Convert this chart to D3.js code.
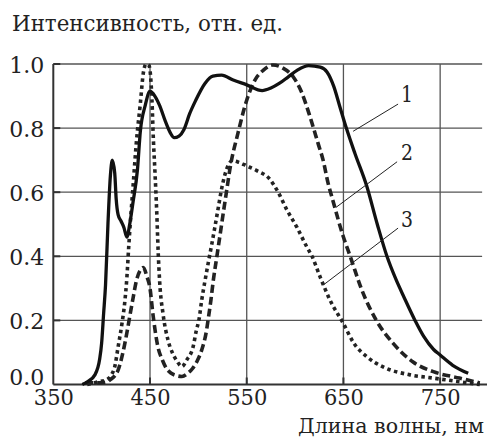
<!DOCTYPE html>
<html><head><meta charset="utf-8">
<script src="https://cdn.jsdelivr.net/npm/d3@7"></script>
<style>
html,body{margin:0;padding:0;background:#fff;}
svg{display:block;}
</style></head>
<body>
<svg id="chart" width="487" height="441"></svg>
<script>
// ---- data ----
const xTicks = [350, 450, 550, 650, 750];
const yTicks = [0.0, 0.2, 0.4, 0.6, 0.8, 1.0];
const yTickLabels = ["0.0", "0.2", "0.4", "0.6", "0.8", "1.0"];
const yTitle = "Интенсивность, отн. ед.";
const xTitle = "Длина волны, нм";

const series1 = [[380,0.0],[386,0.01],[393,0.03],[398,0.08],[400,0.13],[402,0.22],[404,0.31],[406.5,0.5],[409,0.65],[411,0.70],[413.5,0.66],[415,0.58],[417,0.53],[420,0.51],[423,0.49],[426,0.46],[429,0.5],[432.5,0.57],[437,0.67],[440,0.79],[445,0.87],[450,0.915],[455,0.9],[460,0.87],[466,0.82],[471,0.785],[475,0.77],[480,0.775],[485,0.795],[491,0.845],[497,0.885],[507,0.94],[515,0.962],[524,0.965],[536,0.95],[550,0.935],[566,0.917],[575,0.925],[584,0.94],[593,0.96],[602,0.98],[614,0.995],[626,0.99],[633,0.975],[640,0.93],[646,0.87],[653,0.80],[662,0.72],[674,0.62],[685,0.5],[695,0.40],[704,0.33],[713,0.27],[724,0.2],[733,0.15],[743,0.11],[750,0.092],[763,0.06],[779,0.035]];

const series2 = [[383,0.005],[395,0.005],[405,0.008],[409,0.015],[417,0.045],[422,0.1],[426,0.16],[429.5,0.22],[432.5,0.27],[436,0.325],[440,0.357],[443,0.365],[447,0.335],[450,0.30],[453,0.22],[458,0.12],[463,0.075],[467,0.05],[472,0.035],[478,0.027],[483,0.025],[489,0.035],[494,0.05],[499,0.075],[503.5,0.108],[508.5,0.17],[510,0.2],[513,0.264],[515.5,0.326],[519,0.397],[522.5,0.468],[526,0.54],[529.5,0.61],[532.5,0.67],[541,0.785],[550,0.887],[558.5,0.95],[567,0.98],[577,0.997],[587.5,0.987],[598,0.96],[607,0.91],[615.5,0.835],[624,0.75],[629,0.70],[634,0.63],[639,0.575],[650,0.46],[657,0.40],[669,0.295],[684,0.2],[701,0.13],[722,0.07],[743,0.04],[770,0.02],[791,0.005]];

const series3 = [[385,0.0],[396,0.008],[405,0.015],[410,0.03],[413.5,0.055],[417,0.117],[421,0.19],[424,0.26],[426,0.33],[428,0.43],[430,0.52],[432.5,0.62],[436,0.76],[440,0.877],[443,0.97],[446,1.0],[449,0.995],[452,0.888],[453.5,0.763],[455,0.67],[457,0.535],[458.5,0.41],[460,0.32],[463.5,0.22],[468.5,0.14],[473,0.1],[477.5,0.075],[483,0.056],[488,0.077],[494.5,0.117],[498,0.17],[500.5,0.2],[503.5,0.264],[507,0.326],[510,0.376],[514,0.44],[517,0.49],[520.5,0.55],[524,0.61],[527.5,0.655],[531,0.685],[535,0.698],[542,0.693],[550,0.682],[560,0.668],[574,0.64],[582.5,0.6],[591.5,0.545],[602,0.49],[612,0.43],[617.5,0.40],[626,0.335],[636,0.264],[650,0.19],[660.5,0.13],[674.5,0.086],[691,0.055],[719,0.03],[743,0.02],[771,0.008],[791,0.0]];

const labels = ["1", "2", "3"];
const labelPos = [[709.6,0.881],[709.6,0.70],[709.6,0.49]];
const leaderFrom = [[706.5,0.875],[705.5,0.695],[706.5,0.488]];
const leaderTo = [[660,0.79],[642.5,0.553],[629,0.31]];

// ---- layout ----
const svg = d3.select("#chart");
const x = d3.scaleLinear().domain([350, 800]).range([53.3, 488.5]);
const y = d3.scaleLinear().domain([0, 1]).range([384.5, 64]);
const gridEnd = 793.4;
const FONT = '"DejaVu Serif", serif';
const INK = "#222";

// grid
svg.append("g").selectAll("line").data(yTicks.filter(d => d > 0)).join("line")
  .attr("x1", x(350)).attr("x2", x(gridEnd))
  .attr("y1", d => y(d)).attr("y2", d => y(d))
  .attr("stroke", "#555").attr("stroke-width", 1.3);
svg.append("g").selectAll("line").data(xTicks.filter(d => d > 350)).join("line")
  .attr("x1", d => x(d)).attr("x2", d => x(d))
  .attr("y1", y(0)).attr("y2", y(1))
  .attr("stroke", "#555").attr("stroke-width", 1.3);

// axes
const xAxis = d3.axisBottom(x).tickValues(xTicks).tickSize(0).tickPadding(4).tickFormat(d3.format("d"));
const gx = svg.append("g").attr("transform", `translate(0,${y(0)})`).call(xAxis);
gx.attr("font-family", FONT);
gx.select(".domain").remove();
gx.selectAll("text").attr("font-size", 23).attr("dy", "0.72em").attr("fill", INK)
  .attr("textLength", 40).attr("lengthAdjust", "spacingAndGlyphs");

const yAxis = d3.axisLeft(y).tickValues(yTicks).tickSize(0).tickPadding(9).tickFormat((d, i) => yTickLabels[i]);
const gy = svg.append("g").attr("transform", `translate(${x(350)},0)`).call(yAxis);
gy.attr("font-family", FONT);
gy.select(".domain").remove();
gy.selectAll("text").attr("font-size", 23).attr("dy", d => d === 0 ? "0.02em" : "0.35em").attr("fill", INK)
  .attr("textLength", 35).attr("lengthAdjust", "spacingAndGlyphs");

// inward ticks
svg.append("g").selectAll("line").data(xTicks.filter(d => d > 350)).join("line")
  .attr("x1", d => x(d)).attr("x2", d => x(d)).attr("y1", y(0)).attr("y2", y(0) - 7)
  .attr("stroke", "#333").attr("stroke-width", 2);
svg.append("g").selectAll("line").data(yTicks.filter(d => d > 0)).join("line")
  .attr("x1", x(350)).attr("x2", x(350) + 7).attr("y1", d => y(d)).attr("y2", d => y(d))
  .attr("stroke", "#333").attr("stroke-width", 2);

// axis lines
svg.append("line").attr("x1", x(350)).attr("x2", x(350)).attr("y1", y(0)).attr("y2", y(1))
  .attr("stroke", "#333").attr("stroke-width", 2);
svg.append("line").attr("x1", x(350)).attr("x2", 487).attr("y1", y(0)).attr("y2", y(0))
  .attr("stroke", "#333").attr("stroke-width", 2.2);

// curves
const line = d3.line().x(d => x(d[0])).y(d => y(d[1])).curve(d3.curveMonotoneX);
svg.append("path").datum(series3).attr("d", line).attr("fill", "none")
  .attr("stroke", "#222").attr("stroke-width", 3.6).attr("stroke-dasharray", "3.5,3.5");
svg.append("path").datum(series2).attr("d", line).attr("fill", "none")
  .attr("stroke", "#222").attr("stroke-width", 3.6).attr("stroke-dasharray", "8,4");
svg.append("path").datum(series1).attr("d", line).attr("fill", "none")
  .attr("stroke", "#111").attr("stroke-width", 3.3).attr("stroke-linejoin", "round");

// annotations
svg.append("g").selectAll("line").data(labels).join("line")
  .attr("x1", (d, i) => x(leaderFrom[i][0])).attr("y1", (d, i) => y(leaderFrom[i][1]))
  .attr("x2", (d, i) => x(leaderTo[i][0])).attr("y2", (d, i) => y(leaderTo[i][1]))
  .attr("stroke", "#222").attr("stroke-width", 1);
svg.append("g").attr("font-family", FONT).selectAll("text").data(labels).join("text")
  .attr("x", (d, i) => x(labelPos[i][0])).attr("y", (d, i) => y(labelPos[i][1]))
  .attr("font-size", 23).attr("fill", INK)
  .attr("textLength", 12).attr("lengthAdjust", "spacingAndGlyphs").text(d => d);

// titles
svg.append("text").attr("font-family", FONT).attr("x", 12).attr("y", 31).attr("font-size", 21.5)
  .attr("fill", INK).attr("textLength", 271).attr("lengthAdjust", "spacingAndGlyphs").text(yTitle);
svg.append("text").attr("font-family", FONT).attr("x", 298).attr("y", 433).attr("font-size", 21)
  .attr("fill", INK).attr("textLength", 186).attr("lengthAdjust", "spacingAndGlyphs").text(xTitle);
</script>
</body></html>
